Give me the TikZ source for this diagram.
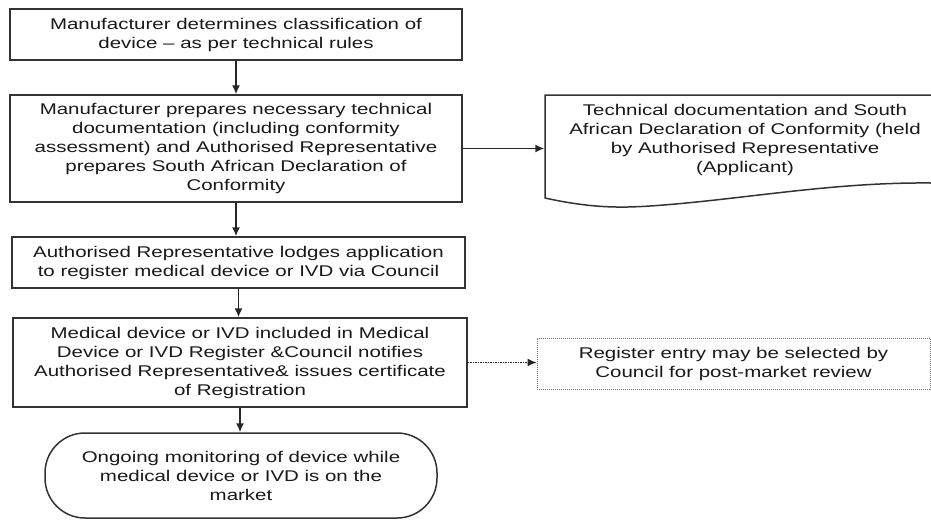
\documentclass[tikz,border=0pt]{standalone}
\usepackage{fontspec}
\setmainfont[FakeStretch=1.32]{Liberation Sans}
\usetikzlibrary{arrows.meta}

\begin{document}
\begin{tikzpicture}[x=1pt, y=-1pt,
        stepbox/.style={draw=black!80, line width=1.5pt, fill=white, align=center, inner sep=0pt,
            text=black!90, font=\fontsize{15.5}{19}\selectfont},
        flow/.style={draw=black!85, line width=1.5pt, -{Latex[length=9pt,width=8pt]}}]
    \useasboundingbox (0,0) rectangle (931,520);
    % main column
    \node[stepbox, minimum width=452pt, minimum height=51pt] (classify) at (236,34.5)
        {Manufacturer determines classification of\\device -- as per technical rules};
    \node[stepbox, minimum width=452pt, minimum height=107pt] (prepare) at (236,148.5)
        {Manufacturer prepares necessary technical\\documentation (including conformity\\assessment) and Authorised Representative\\prepares South African Declaration of\\Conformity};
    \node[stepbox, minimum width=453pt, minimum height=51pt] (lodge) at (238.5,262.5)
        {Authorised Representative lodges application\\to register medical device or IVD via Council};
    \node[stepbox, minimum width=454pt, minimum height=89pt] (register) at (240,362.5)
        {Medical device or IVD included in Medical\\Device or IVD Register \&Council notifies\\Authorised Representative\& issues certificate\\of Registration};
    \node[stepbox, rounded corners=40pt, minimum width=392pt, minimum height=85pt] (monitor) at (241,475.5)
        {Ongoing monitoring of device while\\medical device or IVD is on the\\market};
    % side boxes
    \draw[draw=black!80, line width=1.5pt] (931,95) -- (545,95) -- (545,198)
        .. controls (590,208) and (620,208) .. (650,206)
        .. controls (740,200) and (830,182) .. (931,183);
    \node[stepbox, draw=none, fill=none, minimum width=400pt] (docs) at (745,140)
        {Technical documentation and South\\African Declaration of Conformity (held\\by Authorised Representative\\(Applicant)};
    \node[stepbox, draw=black!55, line width=1pt, densely dotted, minimum width=393pt, minimum height=51pt] (review) at (733.5,363.5)
        {Register entry may be selected by\\Council for post-market review};
    % connectors
    \draw[flow] (classify.south) -- (classify.south |- prepare.north);
    \draw[flow] (prepare.south) -- (prepare.south |- lodge.north);
    \draw[flow] (lodge.south) -- (lodge.south |- register.north);
    \draw[flow] (register.south) -- (register.south |- monitor.north);
    \draw[flow] (prepare.east) -- (prepare.east -| docs.west);
    \draw[flow, densely dotted, line width=1pt] (register.east) -- (register.east -| review.west);
\end{tikzpicture}
\end{document}
